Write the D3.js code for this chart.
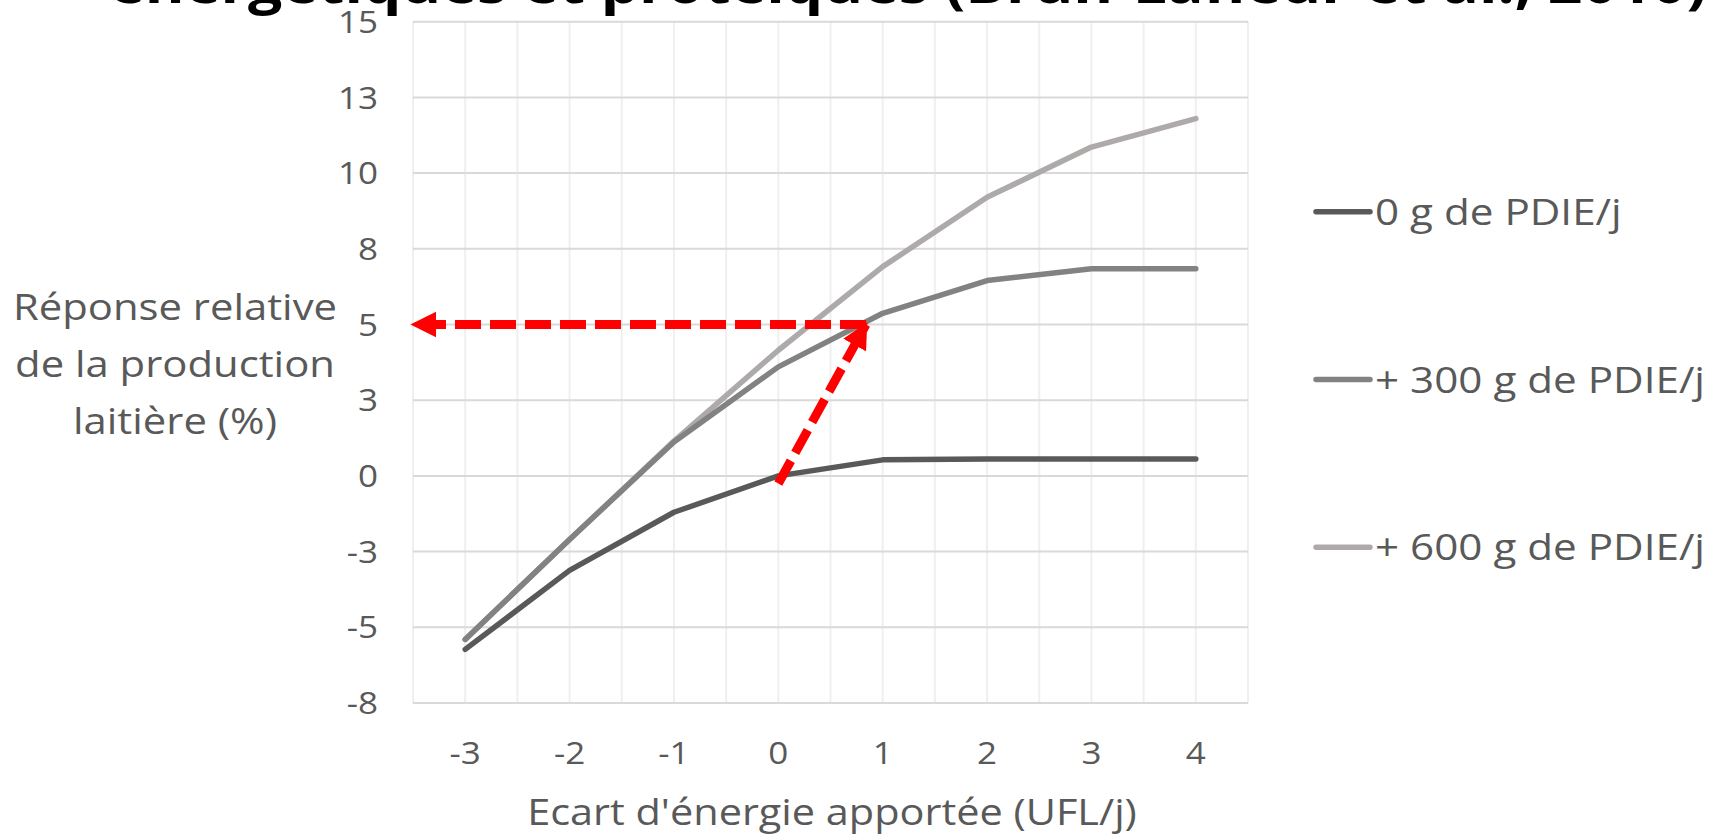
<!DOCTYPE html>
<html>
<head>
<meta charset="utf-8">
<script src="https://cdn.jsdelivr.net/npm/d3@7"></script>
<style>
  body { margin: 0; background: #fff; }
  text { font-family: "Open Sans", sans-serif; fill: #595959; }
</style>
</head>
<body>
<div class="canvas"></div>
<script>
// data
const energyGap = [-3, -2, -1, 0, 1, 2, 3, 4]
const pdie0 = [-5.73, -3.12, -1.2, 0, 0.53, 0.56, 0.56, 0.56]
const pdie300 = [-5.4, -2.1, 1.12, 3.6, 5.37, 6.45, 6.84, 6.84]
const pdie600 = [-5.4, -2.1, 1.15, 4.15, 6.91, 9.2, 10.86, 11.8]
const seriesNames = ['0 g de PDIE/j', '+ 300 g de PDIE/j', '+ 600 g de PDIE/j']
const yTicks = [-7.5, -5, -2.5, 0, 2.5, 5, 7.5, 10, 12.5, 15]
const yTickLabels = ['-8', '-5', '-3', '0', '3', '5', '8', '10', '13', '15']
// red annotation arrows (x in UFL/j, y in %)
const arrowAcross = [[0.84, 5], [-3.5, 5]]
const arrowUp = [[0, -0.25], [0.84, 5]]

const svg = d3.select('.canvas')
  .append('svg')
  .attr('width', 1713)
  .attr('height', 836)

const x = d3.scaleLinear().domain([-3.5, 4.5]).range([413, 1248])
const y = d3.scaleLinear().domain([-7.5, 15]).range([703, 21.7])

// the text in the picture is a bit wider than Open Sans, so stretch it
const widen = (sel, k) => sel.each(function () {
  const len = this.getComputedTextLength()
  d3.select(this).attr('textLength', len * k).attr('lengthAdjust', 'spacingAndGlyphs')
})

// title, cut off by the top edge
svg.append('text')
  .attr('x', 109)
  .attr('y', 3)
  .attr('textLength', 1598)
  .attr('lengthAdjust', 'spacingAndGlyphs')
  .style('font-size', '56px')
  .style('font-weight', 'bold')
  .style('fill', '#000')
  .text('énergétiques et protéiques (Brun-Lafleur et al., 2010)')

// vertical gridlines (every half category)
const vGrid = d3.range(-3.5, 4.51, 0.5)
svg.append('g')
  .selectAll('line')
  .data(vGrid)
  .enter()
  .append('line')
    .attr('x1', d => x(d)).attr('x2', d => x(d))
    .attr('y1', y(15)).attr('y2', y(-7.5))
    .attr('stroke', '#efefef')
    .attr('stroke-width', 2)

// horizontal gridlines
svg.append('g')
  .selectAll('line')
  .data(yTicks)
  .enter()
  .append('line')
    .attr('x1', x(-3.5)).attr('x2', x(4.5))
    .attr('y1', d => y(d)).attr('y2', d => y(d))
    .attr('stroke', '#d9d9d9')
    .attr('stroke-width', 2)

// y tick labels
svg.append('g')
  .selectAll('text')
  .data(yTicks)
  .enter()
  .append('text')
    .attr('x', 378)
    .attr('y', d => y(d))
    .attr('dy', '0.36em')
    .attr('text-anchor', 'end')
    .style('font-size', '31px')
    .text((d, i) => yTickLabels[i])
    .call(widen, 1.13)

// x tick labels
svg.append('g')
  .selectAll('text')
  .data(energyGap)
  .enter()
  .append('text')
    .attr('x', d => x(d))
    .attr('y', 764)
    .attr('text-anchor', 'middle')
    .style('font-size', '31px')
    .text(d => d)
    .call(widen, 1.13)

// axis titles
svg.append('text')
  .attr('x', 832)
  .attr('y', 825)
  .attr('text-anchor', 'middle')
  .style('font-size', '37px')
  .text("Ecart d'énergie apportée (UFL/j)")
  .call(widen, 1.12)

const yTitle = ['Réponse relative', 'de la production', 'laitière (%)']
svg.append('g')
  .selectAll('text')
  .data(yTitle)
  .enter()
  .append('text')
    .attr('x', 175)
    .attr('y', (d, i) => 320 + i * 57)
    .attr('text-anchor', 'middle')
    .style('font-size', '37px')
    .text(d => d)
    .call(widen, 1.13)

// series
const colour = d3.scaleOrdinal().domain(seriesNames).range(['#595959', '#828282', '#aeaaaa'])
const series = [pdie0, pdie300, pdie600].map((vals, i) => ({
  name: seriesNames[i],
  points: vals.map((v, j) => [energyGap[j], v])
}))

const line = d3.line().x(d => x(d[0])).y(d => y(d[1]))

// draw light first so the dark curve sits on top
svg.append('g')
  .selectAll('path')
  .data(series.slice().reverse())
  .enter()
  .append('path')
    .attr('d', d => line(d.points))
    .attr('fill', 'none')
    .attr('stroke', d => colour(d.name))
    .attr('stroke-width', 5.5)
    .attr('stroke-linecap', 'round')
    .attr('stroke-linejoin', 'round')

// red dashed arrows
const defs = svg.append('defs')
defs.append('marker')
  .attr('id', 'head')
  .attr('viewBox', '0 0 10 10')
  .attr('refX', 9)
  .attr('refY', 5)
  .attr('markerWidth', 2.9)
  .attr('markerHeight', 2.9)
  .attr('markerUnits', 'strokeWidth')
  .attr('orient', 'auto')
  .append('path')
    .attr('d', 'M0,0 L10,5 L0,10 Z')
    .attr('fill', '#ff0000')

svg.append('g')
  .selectAll('path')
  .data([arrowAcross, arrowUp])
  .enter()
  .append('path')
    .attr('d', d => line(d))
    .attr('fill', 'none')
    .attr('stroke', '#ff0000')
    .attr('stroke-width', 9)
    .attr('stroke-dasharray', '26,9')
    .attr('marker-end', 'url(#head)')

// legend
const legend = svg.append('g')
  .selectAll('g')
  .data(seriesNames)
  .enter()
  .append('g')
    .attr('transform', (d, i) => `translate(1316, ${211.7 + i * 167.8})`)

legend.append('line')
  .attr('x1', 0).attr('x2', 54)
  .attr('stroke', d => colour(d))
  .attr('stroke-width', 5.5)
  .attr('stroke-linecap', 'round')

legend.append('text')
  .attr('x', 59)
  .attr('y', 13)
  .style('font-size', '37px')
  .text(d => d)
  .call(widen, 1.14)
</script>
</body>
</html>
